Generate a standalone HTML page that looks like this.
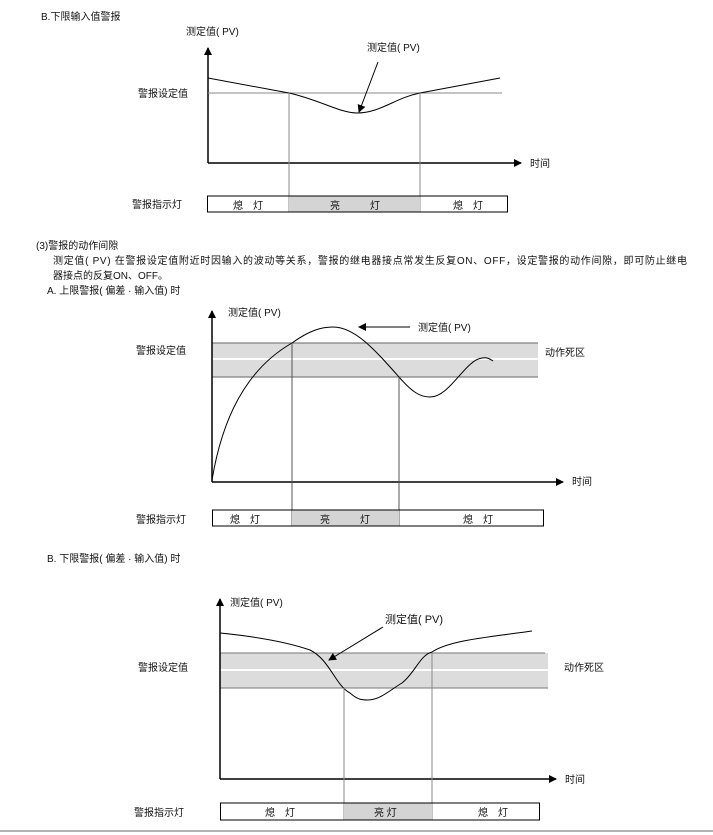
<!DOCTYPE html>
<html><head><meta charset="utf-8"><style>
html,body{margin:0;padding:0;background:#fff}
svg{display:block}
text{font-family:"Liberation Sans","Noto Sans CJK SC",sans-serif;font-size:10px;fill:#111}
</style></head><body>
<svg width="713" height="835" viewBox="0 0 713 835" xmlns="http://www.w3.org/2000/svg">
<defs><marker id="a" markerWidth="8" markerHeight="8" refX="7" refY="4" orient="auto" markerUnits="userSpaceOnUse"><path d="M0,0 L8,4 L0,8 z" fill="#000"/></marker></defs>
<!-- Diagram 1 -->
<text x="41" y="20">B.下限输入值警报</text>
<text x="186" y="35">测定值( PV)</text>
<line x1="208" y1="163" x2="208" y2="48" stroke="#000" stroke-width="1.5" marker-end="url(#a)"/>
<line x1="208" y1="163" x2="521" y2="163" stroke="#000" stroke-width="1.5" marker-end="url(#a)"/>
<text x="530" y="167">时间</text>
<line x1="208" y1="93" x2="502" y2="93" stroke="#888"/>
<text x="138" y="97">警报设定值</text>
<path d="M208,78 L289,93 C320,100 340,113 357,113 C380,113 395,98 420,93 L500,78" fill="none" stroke="#000"/>
<text x="367" y="51">测定值( PV)</text>
<line x1="378" y1="62" x2="359" y2="112" stroke="#000" marker-end="url(#a)"/>
<line x1="289" y1="93" x2="289" y2="212" stroke="#888"/>
<line x1="420" y1="93" x2="420" y2="212" stroke="#888"/>
<rect x="289" y="196" width="131" height="16" fill="#d4d4d4"/>
<rect x="207.5" y="196" width="300" height="16" fill="none" stroke="#000"/>
<text x="132" y="208">警报指示灯</text>
<text x="233" y="209">熄　灯</text><text x="330" y="209">亮　　　灯</text><text x="453" y="209">熄　灯</text>
<!-- Text -->
<text x="36" y="249">(3)警报的动作间隙</text>
<text x="53" y="264" textLength="634" lengthAdjust="spacing">测定值( PV) 在警报设定值附近时因输入的波动等关系，警报的继电器接点常发生反复ON、OFF，设定警报的动作间隙，即可防止继电</text>
<text x="53" y="279">器接点的反复ON、OFF。</text>
<text x="47" y="294">A. 上限警报( 偏差 · 输入值) 时</text>
<!-- Diagram 2 -->
<rect x="212" y="343" width="326" height="34" fill="#dcdcdc"/>
<line x1="212" y1="359" x2="538" y2="359" stroke="#fff" stroke-width="2"/>
<line x1="212" y1="343" x2="538" y2="343" stroke="#666"/>
<line x1="212" y1="377" x2="538" y2="377" stroke="#666"/>
<line x1="212" y1="482" x2="212" y2="311" stroke="#000" stroke-width="1.5" marker-end="url(#a)"/>
<line x1="212" y1="482" x2="563" y2="482" stroke="#000" stroke-width="1.5" marker-end="url(#a)"/>
<text x="572" y="485">时间</text>
<text x="228" y="316">测定值( PV)</text>
<text x="136" y="354">警报设定值</text>
<text x="545" y="356">动作死区</text>
<path d="M212,480 C222,420 245,370 292,343 C310,330 322,327 333,327 C355,327 375,350 399,377 C412,392 420,397 430,397 C450,397 465,360 482,358 C487,357 490,359 493,361" fill="none" stroke="#000"/>
<line x1="410" y1="327" x2="359" y2="327" stroke="#000" marker-end="url(#a)"/>
<text x="418" y="331">测定值( PV)</text>
<line x1="292" y1="343" x2="292" y2="526" stroke="#555"/>
<line x1="399" y1="377" x2="399" y2="526" stroke="#555"/>
<rect x="292" y="510" width="107" height="16" fill="#d4d4d4"/>
<rect x="212.5" y="510" width="331" height="16" fill="none" stroke="#000"/>
<text x="136" y="523">警报指示灯</text>
<text x="230" y="523">熄　灯</text><text x="320" y="523">亮　　　灯</text><text x="463" y="523">熄　灯</text>
<!-- Diagram 3 -->
<text x="47" y="562">B. 下限警报( 偏差 · 输入值) 时</text>
<rect x="220" y="653" width="328" height="35" fill="#dcdcdc"/>
<line x1="220" y1="670" x2="548" y2="670" stroke="#fff" stroke-width="2"/>
<line x1="220" y1="653" x2="545" y2="653" stroke="#777"/>
<line x1="220" y1="688" x2="548" y2="688" stroke="#777"/>
<line x1="220" y1="779" x2="220" y2="599" stroke="#000" stroke-width="1.5" marker-end="url(#a)"/>
<line x1="220" y1="779" x2="556" y2="779" stroke="#000" stroke-width="1.5" marker-end="url(#a)"/>
<text x="565" y="783">时间</text>
<text x="230" y="606">测定值( PV)</text>
<text x="385" y="623" style="font-size:11px">测定值( PV)</text>
<text x="138" y="671">警报设定值</text>
<text x="564" y="671">动作死区</text>
<path d="M220,633 C260,637 290,643 310,650 C330,660 335,685 350,693 C358,700 362,700 368,700 C380,700 390,690 402,683 C415,673 420,655 432,652 C450,640 490,637 532,631" fill="none" stroke="#000"/>
<line x1="383" y1="627" x2="329" y2="660" stroke="#000" marker-end="url(#a)"/>
<line x1="344" y1="688" x2="344" y2="820" stroke="#888"/>
<line x1="432" y1="653" x2="432" y2="820" stroke="#888"/>
<rect x="344" y="803" width="88" height="17" fill="#d4d4d4"/>
<rect x="220.5" y="803" width="319" height="17" fill="none" stroke="#000"/>
<text x="134" y="816">警报指示灯</text>
<text x="265" y="816">熄　灯</text><text x="374" y="816">亮 灯</text><text x="478" y="816">熄　灯</text>
<line x1="0" y1="831" x2="713" y2="831" stroke="#999" stroke-width="1.5"/>
</svg>
</body></html>
